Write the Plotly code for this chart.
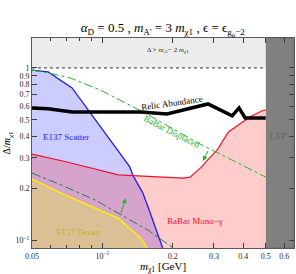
import math
import plotly.graph_objects as go

# ---- axis extents ----
X_RANGE = [0.05, 0.66]
Y_RANGE = [0.09, 1.49]
LEP_MASS = 0.5
DELTA_MAX = 1.0

# ---- curves (m_chi1 [GeV], Delta/m_chi1) ----
scatter_m = [0.05, 0.0586, 0.0742, 0.131, 0.135, 0.149, 0.157, 0.17, 0.181]
scatter_d = [0.97, 0.947, 0.765, 0.266, 0.238, 0.1875, 0.155, 0.115, 0.09]

mono_m = [0.05, 0.0706, 0.117, 0.157, 0.20, 0.221, 0.237, 0.250, 0.266, 0.282, 0.310, 0.346, 0.391, 0.427, 0.48, 0.5]
mono_d = [0.316, 0.284, 0.239, 0.235, 0.232, 0.229, 0.232, 0.248, 0.266, 0.292, 0.334, 0.424, 0.479, 0.519, 0.562, 0.57]

decay_m = [0.05, 0.0666, 0.0932, 0.117, 0.129, 0.145, 0.155]
decay_d = [0.226, 0.1875, 0.153, 0.134, 0.119, 0.104, 0.09]

disp_up_m = [0.05, 0.0586, 0.0728, 0.0977, 0.149, 0.257, 0.5]
disp_up_d = [0.97, 0.934, 0.874, 0.745, 0.555, 0.366, 0.232]

disp_lo_m = [0.05, 0.0666, 0.0932, 0.117, 0.157, 0.201]
disp_lo_d = [0.245, 0.209, 0.171, 0.1435, 0.114, 0.09]

relic_m = [0.05, 0.0586, 0.0742, 0.087, 0.146, 0.189, 0.283, 0.359, 0.384, 0.408, 0.5]
relic_d = [0.585, 0.578, 0.555, 0.556, 0.555, 0.540, 0.617, 0.526, 0.585, 0.512, 0.512]

# arrows (tail, head) in data units
arrow_lo = [(0.120, 0.1435), (0.126, 0.175)]
arrow_up = [(0.283, 0.329), (0.269, 0.288)]

x_ticks = [0.05, 0.1, 0.2, 0.3, 0.4, 0.5, 0.6]
x_ticktext = ["0.05", "10<sup>−1</sup>", "0.2", "0.3", "0.4", "0.5", "0.6"]
x_minor = [0.06, 0.07, 0.08, 0.09]
y_ticks = [0.1, 0.2, 0.3, 0.4, 0.5, 0.6, 0.7, 0.8, 0.9, 1.0]
y_ticktext = ["10<sup>−1</sup>", "0.2", "0.3", "0.4", "0.5", "0.6", "0.7", "0.8", "0.9", "1"]

FONT = "Liberation Serif"
ymin, ymax = Y_RANGE
xmin, xmax = X_RANGE

fig = go.Figure()

# top excluded band
fig.add_trace(go.Scatter(x=[xmin, xmax, xmax, xmin], y=[DELTA_MAX, DELTA_MAX, ymax, ymax],
                         fill="toself", fillcolor="rgb(236,236,236)", line=dict(width=0),
                         mode="lines", hoverinfo="skip"))
# E137 scatter region
fig.add_trace(go.Scatter(x=scatter_m + [scatter_m[-1], xmin], y=scatter_d + [ymin, ymin],
                         fill="toself", fillcolor="rgba(0,0,255,0.2)", line=dict(width=0),
                         mode="lines", hoverinfo="skip"))
# BaBar mono-gamma region
fig.add_trace(go.Scatter(x=mono_m + [mono_m[-1], xmin], y=mono_d + [ymin, ymin],
                         fill="toself", fillcolor="rgba(255,0,0,0.2)", line=dict(width=0),
                         mode="lines", hoverinfo="skip"))
# E137 decay region
fig.add_trace(go.Scatter(x=decay_m + [decay_m[-1], xmin], y=decay_d + [ymin, ymin],
                         fill="toself", fillcolor="rgb(218,192,148)", line=dict(width=0),
                         mode="lines", hoverinfo="skip"))

# boundary lines
fig.add_trace(go.Scatter(x=scatter_m, y=scatter_d, mode="lines", line=dict(color="rgb(30,30,230)", width=1.3)))
fig.add_trace(go.Scatter(x=mono_m, y=mono_d, mode="lines", line=dict(color="rgb(235,20,40)", width=1.2)))
fig.add_trace(go.Scatter(x=decay_m, y=decay_d, mode="lines", line=dict(color="rgb(250,240,0)", width=1.5)))
fig.add_trace(go.Scatter(x=disp_up_m, y=disp_up_d, mode="lines",
                         line=dict(color="rgb(40,180,40)", width=1, dash="dashdot")))
fig.add_trace(go.Scatter(x=disp_lo_m, y=disp_lo_d, mode="lines",
                         line=dict(color="rgb(30,130,70)", width=1, dash="dashdot")))
fig.add_trace(go.Scatter(x=relic_m, y=relic_d, mode="lines", line=dict(color="black", width=3.5)))

# dotted line at Delta = 1
fig.add_trace(go.Scatter(x=[xmin, LEP_MASS], y=[DELTA_MAX, DELTA_MAX], mode="lines",
                         line=dict(color="rgb(90,90,90)", width=1.2, dash="dot")))

# arrows
for (t, h) in [arrow_lo, arrow_up]:
    fig.add_trace(go.Scatter(x=[t[0], h[0]], y=[t[1], h[1]], mode="lines",
                             line=dict(color="rgb(40,180,40)", width=1, dash="dot")))
    fig.add_annotation(x=math.log10(h[0]), y=math.log10(h[1]),
                       ax=math.log10(t[0]), ay=math.log10(t[1]), axref="x", ayref="y",
                       xref="x", yref="y", showarrow=True, arrowhead=2, arrowsize=1,
                       arrowwidth=1, arrowcolor="rgb(40,180,40)", text="")

# LEP region
fig.add_trace(go.Scatter(x=[LEP_MASS, xmax, xmax, LEP_MASS], y=[ymin, ymin, ymax, ymax],
                         fill="toself", fillcolor="rgb(128,128,128)", line=dict(width=0.8, color="rgb(100,100,100)"),
                         mode="lines", hoverinfo="skip"))

def lab(text, m, d, color, size=9, angle=0):
    fig.add_annotation(x=math.log10(m), y=math.log10(d), xref="x", yref="y", text=text,
                       showarrow=False, textangle=angle,
                       font=dict(family=FONT, size=size, color=color))

lab("Δ &gt; <i>m</i><sub>A'</sub>− 2 <i>m</i><sub>χ1</sub>", 0.191, 1.27, "rgb(40,40,40)", size=7)
lab("Relic Abundance", 0.199, 0.625, "black", size=9, angle=-8)
lab("BaBar Displaced", 0.199, 0.424, "rgb(40,180,40)", size=9, angle=27)
lab("E137 Scatter", 0.0698, 0.396, "rgb(30,30,230)", size=9)
lab("BaBar Mono−γ", 0.249, 0.129, "rgb(235,20,40)", size=9)
lab("E137 Decay", 0.0794, 0.111, "rgb(190,180,50)", size=9)
lab("LEP", 0.564, 0.402, "rgb(100,100,100)", size=9)

# x-axis title
fig.add_annotation(x=0.5, y=-0.09, xref="paper", yref="paper", xanchor="center", yanchor="middle",
                   text="<i>m</i><sub>χ1</sub> [GeV]", showarrow=False,
                   font=dict(family=FONT, size=11, color="black"))

axis_common = dict(type="log", showgrid=False, zeroline=False, showline=True,
                   linecolor="rgb(90,90,90)", linewidth=1, mirror="ticks",
                   ticks="inside", ticklen=5, tickcolor="rgb(60,60,60)",
                   tickfont=dict(family=FONT, size=8, color="rgb(40,40,40)"))

fig.update_layout(
    width=296, height=274, showlegend=False,
    margin=dict(l=32, r=2, t=38, b=26),
    paper_bgcolor="white", plot_bgcolor="white",
    title=dict(text="<i>α</i><sub>D</sub> = 0.5 , <i>m</i><sub>A'</sub> = 3 <i>m</i><sub>χ1</sub> , ϵ = ϵ<sub>g<sub>μ</sub>−2</sub>",
               x=0.55, xanchor="center", y=0.9, yanchor="middle",
               font=dict(family=FONT, size=13, color="black")),
    xaxis=dict(**axis_common, range=[math.log10(xmin), math.log10(xmax)], automargin=False,
               tickmode="array", tickvals=x_ticks, ticktext=x_ticktext,
               minor=dict(tickvals=x_minor, ticks="inside", ticklen=3, tickcolor="rgb(60,60,60)")),
    yaxis=dict(**axis_common, range=[math.log10(ymin), math.log10(ymax)],
               tickmode="array", tickvals=y_ticks, ticktext=y_ticktext,
               title=dict(text="Δ/<i>m</i><sub>χ1</sub>", font=dict(family=FONT, size=10, color="black"),
                          standoff=2)),
)

fig.write_html("out.html", config={"displayModeBar": False},
               post_script="document.body.style.margin='0';document.body.style.overflow='hidden';")
